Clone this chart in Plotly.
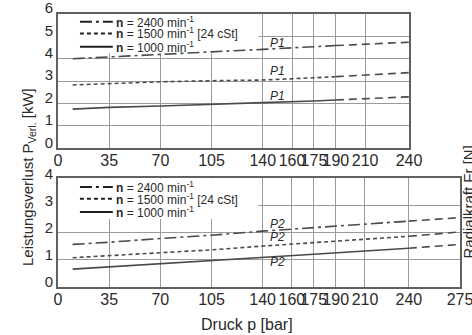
import plotly.graph_objects as go

# ---------------- data ----------------
p_top = [10, 35, 70, 105, 140, 175, 190]
p_top_ext = [190, 210, 240]
top_2400 = [4.00, 4.09, 4.20, 4.31, 4.42, 4.54, 4.59]
top_2400_ext = [4.59, 4.65, 4.74]
top_1500 = [2.83, 2.90, 2.97, 3.02, 3.05, 3.15, 3.20]
top_1500_ext = [3.20, 3.27, 3.38]
top_1000 = [1.75, 1.83, 1.89, 1.98, 2.04, 2.11, 2.16]
top_1000_ext = [2.16, 2.21, 2.30]

p_bot = [10, 35, 70, 105, 140, 175, 210, 240]
p_bot_ext = [240, 275]
bot_2400 = [1.56, 1.64, 1.78, 1.90, 2.05, 2.18, 2.31, 2.42]
bot_2400_ext = [2.42, 2.55]
bot_1500 = [1.07, 1.14, 1.26, 1.36, 1.50, 1.63, 1.76, 1.86]
bot_1500_ext = [1.86, 2.02]
bot_1000 = [0.65, 0.73, 0.85, 0.96, 1.08, 1.20, 1.32, 1.42]
bot_1000_ext = [1.42, 1.56]

legend_labels = ["<b>n</b> = 2400 min<sup>-1</sup>",
                 "<b>n</b> = 1500 min<sup>-1</sup> [24 cSt]",
                 "<b>n</b> = 1000 min<sup>-1</sup>"]
x_ticks_top = [0, 35, 70, 105, 140, 160, 175, 190, 210, 240]
x_ticks_bot = [0, 35, 70, 105, 140, 160, 175, 190, 210, 240, 275]
y_ticks_top = [0, 1, 2, 3, 4, 5, 6]
y_ticks_bot = [0, 1, 2, 3, 4]
top_label_p = 150
top_label_y = [4.71, 3.45, 2.35]
bot_label_y = [2.33, 1.84, 0.92]

# ---------------- style ----------------
FONT = "Liberation Sans, Arial, sans-serif"
LC = "#4a4a4a"
GC = "#9a9a9a"
TXT = "#2a2a2a"
dashes = ["12px,4px,3px,4px", "4px,3px", "solid"]
ext_dash = "8px,5px"
W, H = 472, 335

fig = go.Figure()

def add_series(xs, ys, xe, ye, dash, xa, ya):
    fig.add_trace(go.Scatter(x=xs, y=ys, mode="lines", xaxis=xa, yaxis=ya,
                             line=dict(color=LC, width=1.6, dash=dash),
                             showlegend=False, hoverinfo="skip"))
    fig.add_trace(go.Scatter(x=xe, y=ye, mode="lines", xaxis=xa, yaxis=ya,
                             line=dict(color=LC, width=1.6, dash=ext_dash),
                             showlegend=False, hoverinfo="skip"))

add_series(p_top, top_2400, p_top_ext, top_2400_ext, dashes[0], "x", "y")
add_series(p_top, top_1500, p_top_ext, top_1500_ext, dashes[1], "x", "y")
add_series(p_top, top_1000, p_top_ext, top_1000_ext, dashes[2], "x", "y")
add_series(p_bot, bot_2400, p_bot_ext, bot_2400_ext, dashes[0], "x2", "y2")
add_series(p_bot, bot_1500, p_bot_ext, bot_1500_ext, dashes[1], "x2", "y2")
add_series(p_bot, bot_1000, p_bot_ext, bot_1000_ext, dashes[2], "x2", "y2")

def px_x(v):
    return v / W

def px_y(v):
    return 1 - v / H

xdom_top = [px_x(58), px_x(409)]
xdom_bot = [px_x(58), px_x(460)]
ydom_top = [px_y(148.3), px_y(14)]
ydom_bot = [px_y(286.7), px_y(178.3)]

axis_common = dict(showgrid=True, gridcolor=GC, gridwidth=1.3, showline=True,
                   linecolor="#606060", linewidth=1.6, mirror=True, ticks="",
                   zeroline=False, tickfont=dict(family=FONT, size=16, color=TXT),
                   tickmode="array", fixedrange=True, tickangle=0, automargin=False,
                   ticklabeloverflow="allow")

fig.update_layout(
    width=W, height=H, margin=dict(l=0, r=0, t=0, b=0, autoexpand=False),
    autosize=False,
    paper_bgcolor="white", plot_bgcolor="white", showlegend=False,
    xaxis=dict(axis_common, domain=xdom_top, range=[0, 240], tickvals=x_ticks_top,
               anchor="y", ticklabelstandoff=-3),
    yaxis=dict(axis_common, domain=ydom_top, range=[0, 6], tickvals=y_ticks_top,
               anchor="x", ticklabelstandoff=0, ticklabelshift=-6,
               tickfont=dict(family=FONT, size=15, color=TXT)),
    xaxis2=dict(axis_common, domain=xdom_bot, range=[0, 275], tickvals=x_ticks_bot,
                anchor="y2", ticklabelstandoff=-3),
    yaxis2=dict(axis_common, domain=ydom_bot, range=[0, 4], tickvals=y_ticks_bot,
                anchor="x2", ticklabelstandoff=0, ticklabelshift=-5,
                tickfont=dict(family=FONT, size=15, color=TXT)),
)

# white boxes behind the legends (covering grid)
fig.add_shape(type="rect", xref="x", yref="y", x0=0, x1=137, y0=4.25, y1=6,
              fillcolor="white", line_width=0, layer="between")
fig.add_shape(type="rect", xref="x2", yref="y2", x0=0, x1=137, y0=2.5, y1=4,
              fillcolor="white", line_width=0, layer="between")

# legends
leg_y_top = [5.65, 5.13, 4.54]
leg_y_bot = [3.68, 3.25, 2.76]
for (xr, yr, ys) in [("x", "y", leg_y_top), ("x2", "y2", leg_y_bot)]:
    for lab, yy, d in zip(legend_labels, ys, dashes):
        fig.add_shape(type="line", xref=xr, yref=yr, x0=15, x1=37.5, y0=yy, y1=yy,
                      line=dict(color="#202020", width=2, dash=d))
        fig.add_annotation(xref=xr, yref=yr, x=38.5, y=yy, text=lab, showarrow=False,
                           xanchor="left", yanchor="middle",
                           font=dict(family=FONT, size=12, color=TXT))

for yy in top_label_y:
    fig.add_annotation(xref="x", yref="y", x=top_label_p, y=yy, text="<i>P1</i>",
                       showarrow=False, xanchor="center", yanchor="middle",
                       font=dict(family=FONT, size=12, color=TXT))
for yy in bot_label_y:
    fig.add_annotation(xref="x2", yref="y2", x=top_label_p, y=yy, text="<i>P2</i>",
                       showarrow=False, xanchor="center", yanchor="middle",
                       font=dict(family=FONT, size=12, color=TXT))

# axis titles
fig.add_annotation(xref="paper", yref="paper", x=px_x(28), y=px_y(177),
                   text="Leistungsverlust P<sub>Verl.</sub> [kW]", textangle=-90,
                   showarrow=False, xanchor="center", yanchor="middle",
                   font=dict(family=FONT, size=15, color=TXT))
fig.add_annotation(xref="paper", yref="paper", x=px_x(247), y=px_y(324),
                   text="Druck p [bar]", showarrow=False,
                   xanchor="center", yanchor="middle",
                   font=dict(family=FONT, size=16, color=TXT))
fig.add_annotation(xref="paper", yref="paper", x=px_x(467.5), y=px_y(202),
                   text="Radialkraft Fr [N]", textangle=-90, showarrow=False,
                   xanchor="center", yanchor="middle",
                   font=dict(family=FONT, size=15, color=TXT))

fig.write_html("out.html")
